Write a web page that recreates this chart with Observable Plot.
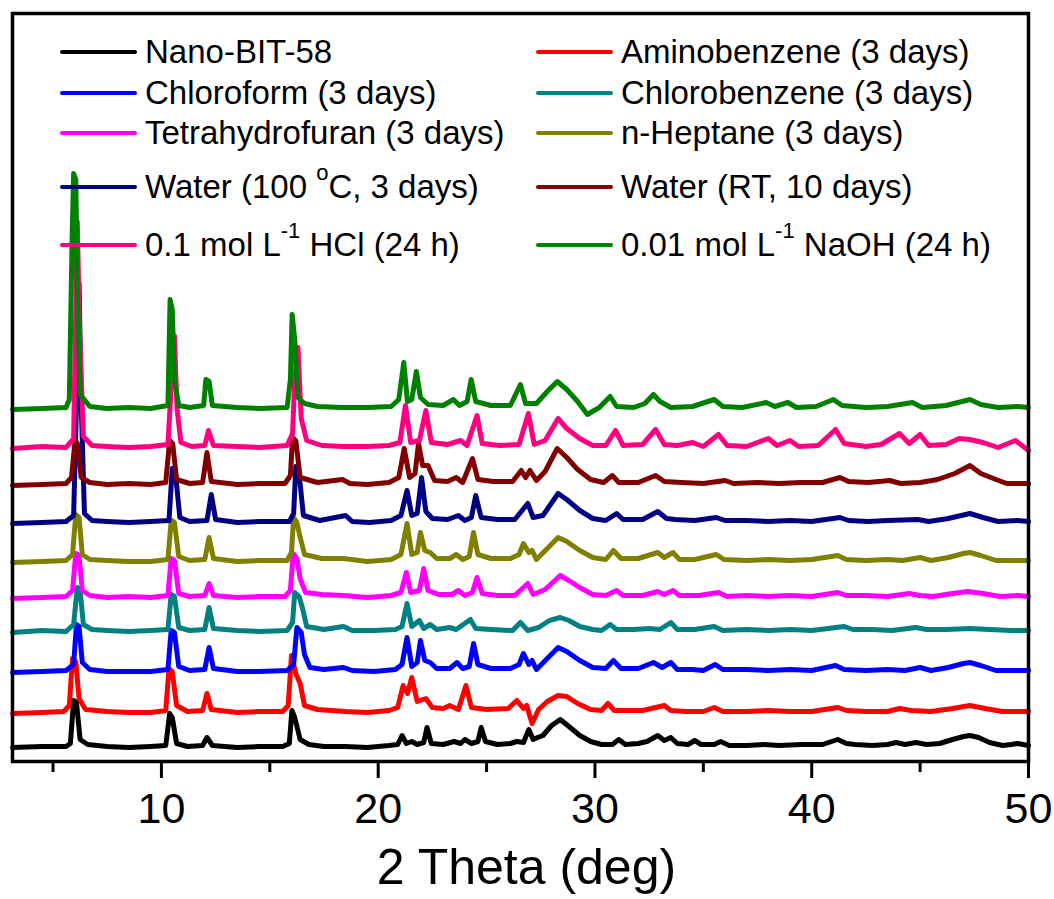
<!DOCTYPE html>
<html><head><meta charset="utf-8">
<script src="https://cdn.jsdelivr.net/npm/d3@7"></script>
<script src="https://cdn.jsdelivr.net/npm/@observablehq/plot@0.6"></script>
<style>
html,body{margin:0;padding:0;background:#fff;}
#wrap{position:relative;width:1054px;height:899px;font-family:"Liberation Sans",Arial,sans-serif;}
.leg{position:absolute;display:flex;align-items:center;height:32px;font-size:33px;color:#000;white-space:nowrap;line-height:32px;}
.leg .sw{width:77px;height:4px;border-radius:2px;margin-right:8px;flex:none;}
.leg sup{font-size:22px;position:relative;top:-18px;vertical-align:baseline;line-height:0;}
</style></head><body><div id="wrap"></div>
<script>
// ---- data (2 Theta in deg, intensity in a.u. above each pattern's own baseline) ----
const seriesNames = ["Nano-BIT-58","Aminobenzene (3 days)","Chloroform (3 days)","Chlorobenzene (3 days)","Tetrahydrofuran (3 days)","n-Heptane (3 days)","Water (100 oC, 3 days)","Water (RT, 10 days)","0.1 mol L-1 HCl (24 h)","0.01 mol L-1 NaOH (24 h)"];
const legendLabels = ["Nano-BIT-58","Aminobenzene (3 days)","Chloroform (3 days)","Chlorobenzene (3 days)","Tetrahydrofuran (3 days)","n-Heptane (3 days)","Water (100 <sup>o</sup>C, 3 days)","Water (RT, 10 days)","0.1 mol L<sup>-1</sup> HCl (24 h)","0.01 mol L<sup>-1</sup> NaOH (24 h)"];
const seriesColors = ["#000000","#ff0000","#0000ff","#008080","#ff00ff","#808000","#000080","#800000","#ff0080","#008000"];
const baselines = [14, 48, 89, 129, 163, 199, 238, 276, 313, 352];
const xTicks = [10, 20, 30, 40, 50];
const xMinorTicks = [5, 15, 25, 35, 45];
const xLabel = "2 Theta (deg)";

const nanoBIT58 = [[3.13,0],[4.5,1],[5.6,1],[5.8,4],[5.95,47],[6.08,45],[6.25,8],[6.6,3],[7.5,1],[8.5,0],[9.5,1],[10.2,2],[10.38,34],[10.5,30],[10.7,4],[11.2,1],[11.9,2],[12.1,10],[12.35,2],[13.5,0],[14.5,1],[15.6,1],[15.9,4],[16.02,37],[16.15,30],[16.4,8],[16.8,3],[17.5,1],[18.5,1],[19.5,0],[20.5,2],[20.9,3],[21.1,12],[21.3,4],[21.55,6],[21.8,3],[22.1,5],[22.25,20],[22.45,4],[23.0,3],[23.5,6],[23.8,4],[24.0,8],[24.3,4],[24.6,6],[24.75,20],[24.95,6],[25.5,3],[26.1,4],[26.4,6],[26.7,5],[26.95,18],[27.15,8],[27.35,10],[27.6,12],[28.0,22],[28.4,28],[28.8,21],[29.3,12],[29.8,6],[30.3,3],[30.8,3],[31.1,8],[31.4,3],[32.0,4],[32.4,6],[32.9,12],[33.2,7],[33.5,10],[33.8,4],[34.3,3],[34.6,7],[34.9,3],[35.5,3],[35.8,6],[36.2,2],[37.0,2],[37.8,3],[38.5,2],[39.5,3],[40.5,3],[41.2,8],[41.6,4],[42.0,3],[42.8,2],[43.5,3],[43.9,5],[44.3,3],[44.8,5],[45.3,3],[45.9,4],[46.5,8],[47.0,11],[47.3,12],[47.7,10],[48.2,5],[48.8,2],[49.2,3],[49.5,4],[50,2]];
const aminobenzene = [[3.13,0],[4.5,1],[5.5,2],[5.75,8],[5.9,55],[6.05,52],[6.2,15],[6.5,4],[7.5,2],[8.5,1],[9.5,1],[10.2,3],[10.35,45],[10.5,42],[10.7,8],[11.2,2],[11.9,3],[12.1,20],[12.3,4],[13.5,1],[14.5,2],[15.6,2],[15.85,8],[16.0,58],[16.2,40],[16.4,30],[16.6,8],[17.2,4],[18.5,2],[19.5,1],[20.5,3],[20.9,6],[21.15,28],[21.35,20],[21.55,36],[21.8,12],[22.2,15],[22.5,6],[23.0,5],[23.3,8],[23.7,4],[24.05,28],[24.3,6],[25.0,4],[26.0,5],[26.4,13],[26.7,5],[26.85,8],[27.1,-10],[27.4,4],[27.8,12],[28.3,18],[28.7,17],[29.2,10],[29.8,4],[30.3,3],[30.6,10],[30.9,3],[31.5,3],[32.2,3],[33.2,8],[33.5,3],[34.2,2],[35.0,2],[35.5,6],[35.9,2],[37.0,2],[38.0,3],[39.0,2],[40.0,2],[41.2,6],[41.6,3],[42.5,2],[43.5,2],[44.05,5],[44.6,3],[45.5,2],[46.5,5],[47.3,8],[48.0,5],[48.8,2],[50,2]];
const chloroform = [[3.13,0],[4.5,1],[5.6,2],[5.95,8],[6.08,48],[6.2,46],[6.35,10],[6.7,3],[7.5,1],[8.5,1],[9.5,1],[10.3,3],[10.45,42],[10.6,40],[10.8,6],[11.3,2],[12.0,3],[12.2,25],[12.4,4],[13.5,1],[14.5,1],[15.8,2],[16.1,8],[16.25,45],[16.45,40],[16.6,18],[16.85,5],[17.5,3],[18.4,5],[18.8,2],[19.8,1],[20.8,3],[21.1,8],[21.33,35],[21.55,6],[21.8,10],[21.95,32],[22.15,12],[22.4,10],[22.7,4],[23.3,4],[23.64,10],[23.9,4],[24.2,6],[24.4,29],[24.6,8],[25.2,4],[26.1,4],[26.5,8],[26.7,19],[26.95,8],[27.1,12],[27.3,3],[27.8,14],[28.3,25],[28.7,21],[29.3,12],[29.9,5],[30.5,4],[30.85,12],[31.2,4],[32.0,4],[32.7,10],[33.1,5],[33.5,10],[33.8,3],[34.5,3],[35.0,2],[35.55,8],[35.9,3],[37.0,3],[38.0,2],[39.0,3],[40.0,2],[41.1,7],[41.5,3],[42.5,2],[43.5,3],[44.3,2],[45.0,5],[45.5,2],[46.3,5],[47.0,9],[47.3,10],[47.8,7],[48.5,2],[49.5,2],[50,2]];
const chlorobenzene = [[3.13,0],[4.5,2],[5.6,1],[5.95,8],[6.12,45],[6.25,42],[6.4,8],[6.8,3],[7.5,2],[8.5,1],[9.5,2],[10.3,3],[10.45,38],[10.6,36],[10.8,5],[11.3,2],[12.0,3],[12.2,25],[12.4,4],[13.5,2],[14.5,1],[15.8,2],[16.05,10],[16.15,40],[16.35,36],[16.5,25],[16.7,6],[17.5,3],[18.4,6],[18.8,2],[19.8,2],[20.8,3],[21.1,6],[21.33,29],[21.55,6],[21.9,12],[22.1,4],[22.4,8],[22.7,3],[23.3,5],[23.6,3],[24.25,13],[24.5,4],[25.2,3],[26.2,2],[26.56,10],[26.9,2],[27.4,5],[27.9,12],[28.4,15],[28.8,12],[29.3,6],[29.9,3],[30.3,2],[30.7,8],[31.0,3],[31.8,3],[32.5,4],[33.0,3],[33.5,10],[33.8,3],[34.6,3],[35.5,6],[35.9,2],[37.0,3],[38.0,2],[39.0,3],[40.0,2],[41.5,6],[41.9,3],[42.8,3],[43.7,2],[44.8,5],[45.3,3],[46.2,3],[47.3,4],[48.2,3],[49.2,2],[50,2]];
const tetrahydrofuran = [[3.13,0],[4.5,1],[5.6,2],[5.9,8],[6.05,45],[6.2,43],[6.35,8],[6.7,3],[7.5,1],[8.5,2],[9.5,1],[10.3,3],[10.45,40],[10.6,38],[10.8,5],[11.3,2],[12.0,3],[12.2,15],[12.4,3],[13.5,1],[14.5,2],[15.7,2],[15.95,8],[16.08,45],[16.25,40],[16.4,20],[16.65,6],[17.4,4],[18.4,3],[19.5,1],[20.6,3],[21.05,6],[21.3,26],[21.5,6],[21.9,8],[22.1,30],[22.3,8],[22.8,4],[23.4,4],[23.7,8],[24.0,3],[24.35,6],[24.56,21],[24.8,5],[25.5,3],[26.3,3],[26.9,15],[27.15,4],[27.7,9],[28.4,23],[28.8,18],[29.3,11],[29.9,4],[30.5,3],[31.0,8],[31.3,3],[32.2,3],[32.9,7],[33.2,4],[33.6,8],[33.9,3],[34.8,3],[35.7,6],[36.1,2],[37.0,3],[38.0,2],[39.0,3],[40.0,2],[41.2,6],[41.6,3],[42.5,3],[43.5,2],[44.5,5],[45.0,3],[45.6,2],[46.5,5],[47.2,7],[47.9,5],[48.7,2],[49.5,3],[50,2]];
const nHeptane = [[3.13,0],[4.5,1],[5.6,2],[5.9,8],[6.05,48],[6.2,45],[6.35,8],[6.7,3],[7.5,2],[8.5,1],[9.5,1],[10.3,3],[10.45,42],[10.6,40],[10.8,6],[11.3,2],[12.0,3],[12.2,25],[12.4,4],[13.5,1],[14.5,2],[15.8,2],[16.0,10],[16.1,45],[16.25,40],[16.35,30],[16.6,8],[17.4,4],[18.4,4],[19.5,1],[20.6,3],[21.05,8],[21.33,39],[21.55,8],[21.8,10],[21.95,30],[22.15,12],[22.4,10],[22.7,4],[23.3,4],[23.6,8],[23.9,3],[24.2,6],[24.4,30],[24.6,8],[25.2,4],[26.1,4],[26.5,8],[26.7,19],[26.95,10],[27.1,12],[27.3,3],[27.8,14],[28.3,25],[28.7,21],[29.3,12],[29.9,5],[30.5,3],[30.85,12],[31.2,4],[32.0,4],[32.9,10],[33.2,5],[33.6,10],[33.9,3],[34.6,3],[35.6,8],[35.95,3],[37.0,2],[38.0,3],[39.0,2],[40.0,3],[41.2,7],[41.6,3],[42.5,2],[43.5,3],[44.2,2],[45.0,5],[45.5,2],[46.3,5],[47.0,9],[47.3,10],[47.8,7],[48.5,2],[49.5,2],[50,2]];
const water100C = [[3.13,0],[4.5,1],[5.6,2],[5.95,8],[6.12,150],[6.2,240],[6.3,120],[6.45,10],[6.8,3],[7.5,2],[8.5,1],[9.5,2],[10.35,3],[10.5,55],[10.65,50],[10.85,6],[11.3,2],[12.1,3],[12.3,29],[12.5,4],[13.5,1],[14.5,2],[15.9,2],[16.1,10],[16.2,57],[16.35,50],[16.55,8],[17.3,3],[18.5,8],[18.8,2],[19.6,1],[20.6,3],[21.05,8],[21.33,33],[21.55,8],[21.8,10],[22.0,46],[22.2,12],[22.5,5],[23.2,4],[23.7,8],[24.0,3],[24.3,6],[24.5,28],[24.75,6],[25.5,4],[26.3,4],[26.9,20],[27.15,6],[27.6,8],[28.3,30],[28.7,24],[29.3,13],[29.9,5],[30.5,3],[31.0,10],[31.3,4],[32.2,4],[32.9,12],[33.3,5],[33.7,4],[34.6,3],[35.6,6],[36.0,3],[37.0,3],[38.0,2],[39.0,3],[40.0,2],[41.3,6],[41.7,3],[42.6,2],[43.5,3],[44.9,4],[45.4,2],[46.3,5],[47.3,10],[47.9,6],[48.6,2],[49.5,3],[50,2]];
const waterRT = [[3.13,0],[4.5,1],[5.6,2],[5.85,8],[6.02,45],[6.12,42],[6.3,8],[6.7,3],[7.5,1],[8.5,2],[9.5,1],[10.2,3],[10.38,45],[10.52,42],[10.7,6],[11.3,2],[11.9,3],[12.1,33],[12.3,4],[13.5,1],[14.5,2],[15.7,2],[15.95,10],[16.05,48],[16.2,45],[16.4,8],[17.2,3],[18.35,6],[18.7,2],[19.5,1],[20.5,3],[20.95,8],[21.2,37],[21.45,8],[21.7,12],[21.86,42],[22.05,20],[22.3,20],[22.6,5],[23.2,4],[23.6,8],[23.9,3],[24.35,27],[24.6,6],[25.3,4],[26.2,4],[26.6,15],[26.8,8],[27.0,15],[27.3,5],[27.7,14],[28.26,37],[28.7,28],[29.2,16],[29.8,6],[30.4,3],[30.8,10],[31.1,3],[32.0,3],[32.8,10],[33.2,4],[34.0,3],[35.0,2],[36.0,5],[36.4,2],[37.5,3],[38.5,2],[39.5,3],[40.5,3],[41.3,8],[41.7,4],[42.6,3],[43.6,5],[44.1,2],[45.0,3],[45.8,6],[46.6,12],[47.3,20],[47.8,12],[48.5,6],[49.0,2],[50,2]];
const hcl = [[3.13,0],[4.5,2],[5.6,1],[5.95,10],[6.05,140],[6.12,227],[6.22,120],[6.4,12],[6.8,3],[7.5,2],[8.5,1],[9.5,2],[10.3,4],[10.5,80],[10.6,113],[10.72,40],[10.9,6],[11.4,2],[12.0,3],[12.17,18],[12.4,3],[13.5,2],[14.5,1],[15.8,3],[16.05,15],[16.15,70],[16.3,101],[16.45,30],[16.7,8],[17.4,3],[18.4,2],[19.5,2],[20.5,3],[21.0,6],[21.26,43],[21.5,6],[21.9,8],[22.2,38],[22.45,6],[23.2,4],[23.8,8],[24.1,3],[24.56,33],[24.8,5],[25.6,3],[26.5,4],[26.93,35],[27.2,4],[27.7,8],[28.3,30],[28.7,20],[29.3,10],[29.9,3],[30.5,3],[30.95,18],[31.3,3],[32.2,4],[32.8,19],[33.2,4],[33.8,3],[34.5,6],[35.0,2],[35.7,14],[36.1,3],[37.0,2],[38.0,10],[38.4,3],[39.0,8],[39.4,2],[40.3,3],[41.1,19],[41.5,5],[42.5,2],[43.2,4],[44.05,15],[44.5,5],[45.0,14],[45.4,3],[46.2,4],[46.8,10],[47.3,9],[47.9,6],[48.6,1],[49.4,8],[50,-2]];
const naoh = [[3.13,0],[4.5,1],[5.6,2],[5.75,10],[5.88,170],[5.95,236],[6.05,230],[6.12,120],[6.25,15],[6.7,3],[7.5,1],[8.5,2],[9.5,1],[10.3,4],[10.4,110],[10.5,100],[10.6,30],[10.8,4],[11.3,2],[11.95,4],[12.05,30],[12.2,28],[12.35,4],[13.5,2],[14.5,1],[15.8,2],[15.95,30],[16.03,95],[16.15,70],[16.3,12],[16.6,6],[17.2,3],[18.3,2],[19.5,2],[20.6,3],[20.95,10],[21.18,47],[21.35,8],[21.55,10],[21.76,38],[21.95,12],[22.3,5],[23.0,4],[23.47,10],[23.75,4],[24.1,8],[24.29,30],[24.5,8],[25.2,4],[26.1,4],[26.56,25],[26.8,6],[27.3,6],[27.8,18],[28.26,28],[28.7,20],[29.2,8],[29.65,-5],[30.2,2],[30.7,13],[31.0,3],[31.8,2],[32.3,6],[32.7,15],[33.0,8],[33.5,2],[34.5,3],[35.5,10],[35.9,3],[36.8,2],[37.9,7],[38.3,3],[38.9,7],[39.3,2],[40.2,3],[41.0,10],[41.4,4],[42.5,2],[43.5,3],[44.65,7],[45.1,2],[46.2,4],[47.3,10],[47.8,5],[48.6,2],[49.5,3],[50,2]];

const patterns = [nanoBIT58, aminobenzene, chloroform, chlorobenzene, tetrahydrofuran, nHeptane, water100C, waterRT, hcl, naoh];

// ---- build table ----
const rows = patterns.map((pts, i) => pts.map(([x, h]) => ({series: seriesNames[i], x, y: baselines[i] + h})));

const W = 1054, H = 899;
const font = "Liberation Sans, Arial, sans-serif";
const plot = Plot.plot({
  width: W, height: H,
  marginLeft: 12, marginRight: 26, marginTop: 13, marginBottom: 138,
  style: {fontFamily: font, background: "white", color: "black"},
  x: {domain: [3.13, 50]},
  y: {domain: [0, 748], axis: null},
  marks: [
    ...rows.map((r, i) => Plot.line(r, {x: "x", y: "y", stroke: seriesColors[i], strokeWidth: 5, strokeLinejoin: "round", strokeLinecap: "round"})),
    Plot.frame({strokeWidth: 3.5, stroke: "black"}),
    Plot.axisX({ticks: xTicks, tickSize: 17, tickPadding: 14, fontSize: 43, strokeWidth: 3, label: null, tickFormat: d => String(d)}),
    Plot.axisX({ticks: xMinorTicks, tickSize: 11, strokeWidth: 3, label: null, tickFormat: () => ""}),
    Plot.text([xLabel], {text: d => d, frameAnchor: "bottom", dy: 122, dx: 6, fontSize: 50, fill: "black"})
  ]
});
const wrap = document.getElementById("wrap");
wrap.appendChild(plot);

// ---- legend (inside the frame, two columns) ----
const rowCenters = [52, 93, 133, 187, 245];
const colLeft = [60, 536];
legendLabels.forEach((lab, i) => {
  const r = Math.floor(i / 2), c = i % 2;
  const d = document.createElement("div");
  d.className = "leg";
  d.style.left = colLeft[c] + "px";
  d.style.top = (rowCenters[r] - 16) + "px";
  d.innerHTML = `<span class="sw" style="background:${seriesColors[i]}"></span><span>${lab}</span>`;
  wrap.appendChild(d);
});
</script></body></html>
